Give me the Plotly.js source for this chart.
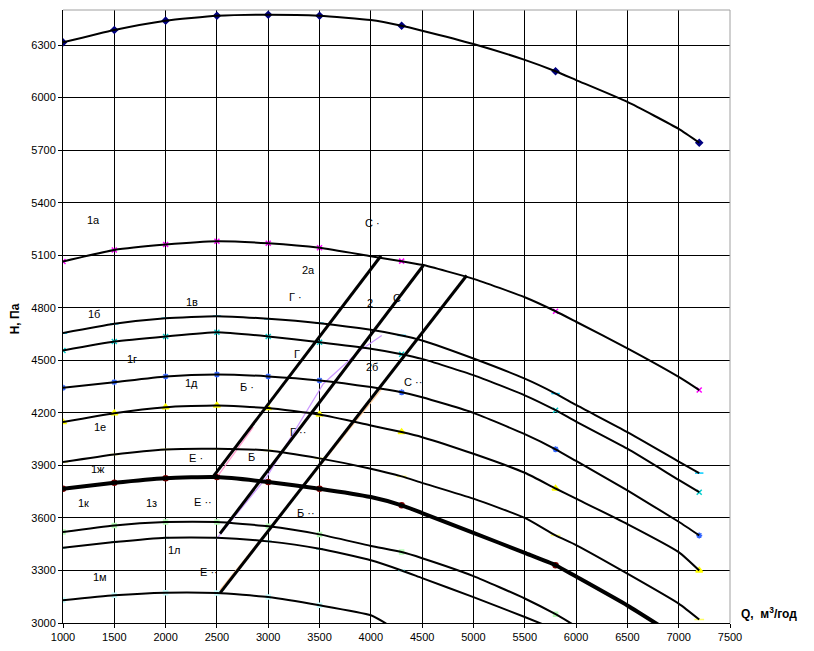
<!DOCTYPE html>
<html>
<head>
<meta charset="utf-8">
<script src="https://cdn.plot.ly/plotly-3.0.1.min.js"></script>
<style>html,body{margin:0;padding:0;background:#fff}#chart{width:814px;height:651px}</style>
</head>
<body>
<div id="chart"></div>
<script>
// Flow Q (m3/h) and pressure H (Pa)
const Q_FULL = [1000,1500,2000,2500,3000,3500,4000,4300,4500,5000,5500,5800,6000,6500,7000,7200];
const H_TOP  = [6315,6386,6439,6467,6473,6467,6443,6410,6382,6306,6215,6150,6100,5975,5821,5742];
const H_2A   = [5064,5130,5161,5180,5168,5142,5094,5066,5045,4965,4860,4780,4720,4568,4405,4330];
const H_1B   = [4655,4708,4740,4752,4737,4712,4674,4642,4613,4510,4395,4310,4245,4090,3922,3856];
const H_1V   = [4556,4607,4636,4660,4636,4603,4566,4535,4508,4415,4300,4215,4150,3995,3817,3747];
const H_1D   = [4343,4375,4408,4419,4408,4385,4347,4317,4289,4200,4078,3992,3925,3757,3578,3500];
const H_1E   = [4147,4198,4232,4242,4227,4190,4128,4090,4061,3966,3858,3768,3710,3565,3405,3300];
const H_1ZH  = [3919,3962,3991,3995,3985,3940,3881,3837,3800,3710,3600,3500,3445,3282,3111,3020];

const Q_1Z   = [1000,1500,2000,2500,3000,3500,4000,4300,4500,5000,5500,5800,6000,6500,6800];
const H_1Z   = [3767,3801,3827,3833,3805,3767,3719,3672,3628,3515,3400,3330,3265,3100,2990];

const Q_G    = [1000,1500,2000,2500,3000,3500,4000,4300,4500,5000,5500,5800,5960];
const H_G    = [3519,3557,3576,3576,3552,3506,3440,3405,3370,3268,3140,3050,2995];

const Q_1L   = [1000,1500,2000,2500,3000,3500,4000,4300,4500,5000,5500,5700];
const H_1L   = [3430,3462,3487,3487,3466,3424,3358,3300,3256,3148,3034,2987];

const Q_1M   = [1000,1500,2000,2500,3000,3500,4000,4150];
const H_1M   = [3130,3158,3173,3171,3148,3101,3044,2997];

// Points where the original series had markers
const MARK_Q = [1000,1500,2000,2500,3000,3500,4300,5800,7200];

// Straight system lines
const R1_Q = [2465,4099], R1_H = [3837,5097];
const R2_Q = [2530,4511], R2_H = [3510,5041];
const R3_Q = [2530,4934], R3_H = [3171,4984];
// Thin coloured lines
const PINK_Q = [2513,2854], PINK_H = [3843,4118];
const PURP_Q = [2497,2985,3537,3894,4106], PURP_H = [3481,3833,4366,4556,4641];
const ORNG_Q = [2530,4106], ORNG_H = [3187,4337];

// Labels: [text, Q, H, anchor]
const LABELS = [
  ["1а",1302,5303,"center"],["С ·",3926,5286,"left"],["2а",3388,5017,"center"],
  ["1в",2257,4835,"center"],["Г ·",3186,4863,"left"],["2",3992,4829,"center"],
  ["С",4252,4857,"center"],["1б",1302,4767,"center"],["1г",1672,4510,"center"],
  ["Г",3277,4537,"center"],["2б",4008,4461,"center"],["1д",2257,4368,"center"],
  ["Б ·",2708,4347,"left"],["С ··",4300,4375,"left"],["1е",1360,4117,"center"],
  ["Г ··",3189,4090,"left"],["Е ·",2205,3940,"left"],["Б",2839,3947,"center"],
  ["1ж",1341,3877,"center"],["1к",1195,3683,"center"],["1з",1867,3683,"center"],
  ["Е ··",2260,3690,"left"],["Б ··",3261,3628,"left"],["1л",2091,3415,"center"],
  ["1м",1360,3262,"center"],["Е ··",2319,3291,"left"]
];

const FONT = "Liberation Sans, Arial, sans-serif";

const curves = [
  {q:Q_FULL,h:H_TOP,sym:"diamond",col:"#000080",sz:5,w:2},
  {q:Q_FULL,h:H_2A,sym:"x-thin-open",col:"#FF00FF",sz:5,w:2},
  {q:Q_FULL,h:H_1B,sym:"line-ew-open",col:"#00CCFF",sz:6,w:2},
  {q:Q_FULL,h:H_1V,sym:"x-thin-open",col:"#00CCCC",sz:5,w:2},
  {q:Q_FULL,h:H_1D,sym:"asterisk-open",col:"#3366FF",sz:5,w:2},
  {q:Q_FULL,h:H_1E,sym:"triangle-up",col:"#FFFF00",sz:6,w:2},
  {q:Q_FULL,h:H_1ZH,sym:"line-ew-open",col:"#FFFF66",sz:7,w:2},
  {q:Q_1Z,h:H_1Z,sym:"circle",col:"#800000",sz:5,w:4},
  {q:Q_G,h:H_G,sym:"square",col:"#BBFFBB",sz:4,w:2},
  {q:Q_1L,h:H_1L,sym:"line-ew-open",col:"#33CCCC",sz:5,w:2},
  {q:Q_1M,h:H_1M,sym:"square",col:"#CCFFFF",sz:4,w:2}
];

const traces = [];
// coloured markers (beneath)
curves.forEach(c => {
  const mq = [], mh = [];
  c.q.forEach((q,i) => { if (MARK_Q.indexOf(q) >= 0) { mq.push(q); mh.push(c.h[i]); } });
  traces.push({x:mq, y:mh, mode:"markers", type:"scatter", hoverinfo:"skip",
    marker:{symbol:c.sym, color:c.col, size:c.sz, line:{color:c.col, width:1.5}}});
});
// thin coloured lines
[[PINK_Q,PINK_H,"#FF99CC"],[PURP_Q,PURP_H,"#CC99FF"],[ORNG_Q,ORNG_H,"#FFCC99"]].forEach(t => {
  traces.push({x:t[0], y:t[1], mode:"lines", type:"scatter", line:{color:t[2], width:1.2}});
});
// black curves
curves.forEach(c => {
  traces.push({x:c.q, y:c.h, mode:"lines", type:"scatter",
    line:{color:"#000", width:c.w, shape:"spline", smoothing:0.5}});
});
// system lines
[[R1_Q,R1_H],[R2_Q,R2_H],[R3_Q,R3_H]].forEach(t => {
  traces.push({x:t[0], y:t[1], mode:"lines", type:"scatter", line:{color:"#000", width:3}});
});

const xt = []; for (let v = 1000; v <= 7500; v += 500) xt.push(v);
const yt = []; for (let v = 3000; v <= 6300; v += 300) yt.push(v);

const annotations = LABELS.map(l => ({
  text:l[0], x:l[1], y:l[2], xref:"x", yref:"y", showarrow:false, xanchor:l[3], yanchor:"middle",
  font:{family:FONT, size:11, color:"#000"}
}));
annotations.push({text:"<b>H, Па</b>", xref:"paper", yref:"paper", x:-0.072, y:0.497,
  textangle:-90, showarrow:false, xanchor:"center", yanchor:"middle", font:{family:FONT, size:12, color:"#000"}});
annotations.push({text:"<b>Q,\u00A0 м<sup>3</sup>/год</b>", xref:"paper", yref:"paper", x:1.013, y:0.016,
  showarrow:false, xanchor:"left", yanchor:"middle", font:{family:FONT, size:12, color:"#000"}});

const axisCommon = {
  showgrid:true, gridcolor:"#000", gridwidth:1, zeroline:false,
  showline:true, linecolor:"#000", linewidth:1, ticks:"outside", ticklen:4, tickcolor:"#000",
  tickfont:{family:FONT, size:11, color:"#000"}, fixedrange:true
};

const layout = {
  width:814, height:651, margin:{l:63, r:84, t:10, b:28},
  paper_bgcolor:"#fff", plot_bgcolor:"#fff", showlegend:false,
  xaxis:Object.assign({}, axisCommon, {range:[1000,7500], tickmode:"array", tickvals:xt}),
  yaxis:Object.assign({}, axisCommon, {range:[3000,6500], tickmode:"array", tickvals:yt}),
  annotations:annotations,
  shapes:[
    {type:"line", xref:"paper", yref:"paper", x0:0, x1:1, y0:1, y1:1, line:{color:"#A0A0A0", width:1}, layer:"above"},
    {type:"line", xref:"paper", yref:"paper", x0:1, x1:1, y0:0, y1:1, line:{color:"#A0A0A0", width:1}, layer:"above"}
  ]
};

Plotly.newPlot("chart", traces, layout, {displayModeBar:false, staticPlot:true});
</script>
</body>
</html>
